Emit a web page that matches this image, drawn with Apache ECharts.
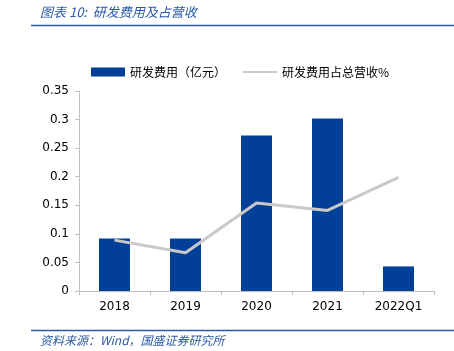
<!DOCTYPE html>
<html>
<head>
<meta charset="utf-8">
<script src="https://cdn.jsdelivr.net/npm/echarts@6/dist/echarts.min.js"></script>
<style>
  html, body { margin: 0; padding: 0; background: #fff; }
  #chart { width: 454px; height: 351px; }
</style>
</head>
<body>
<div id="chart"></div>
<script>
// data
const categories = ['2018', '2019', '2020', '2021', '2022Q1'];
const rdExpense = [0.092, 0.092, 0.272, 0.302, 0.043];   // 研发费用（亿元）
const rdRatio = [0.089, 0.067, 0.154, 0.141, 0.199];     // 研发费用占总营收%
const yTicks = { min: 0, max: 0.35, interval: 0.05 };

const blue = '#023F97';
const titleBlue = '#2B5AA6';
const cjk = '"Noto Sans CJK SC", "DejaVu Sans", sans-serif';

const chart = echarts.init(document.getElementById('chart'));

chart.setOption({
    animation: false,
    backgroundColor: '#fff',
    graphic: [
        {
            type: 'text', left: 40, top: 6,
            style: { text: '图表 10:  研发费用及占营收', fill: titleBlue, font: 'italic 13px ' + cjk }
        },
        {
            type: 'line', shape: { x1: 31, y1: 25.5, x2: 454, y2: 25.5 },
            style: { stroke: '#2B5AA6', lineWidth: 1.5 }
        },
        {
            type: 'line', shape: { x1: 31, y1: 330.5, x2: 454, y2: 330.5 },
            style: { stroke: '#2B5AA6', lineWidth: 1.5 }
        },
        {
            type: 'text', left: 40, top: 334,
            style: { text: '资料来源：Wind，国盛证券研究所', fill: titleBlue, font: 'italic 12px ' + cjk }
        }
    ],
    legend: {
        top: 61,
        left: 86,
        itemWidth: 34,
        itemHeight: 9,
        itemGap: 16,
        textStyle: { fontFamily: cjk, fontSize: 12, color: '#000' },
        data: [
            { name: '研发费用（亿元）', icon: 'rect' },
            { name: '研发费用占总营收%', itemStyle: { opacity: 0 } }
        ]
    },
    grid: { left: 79, right: 20, top: 91, bottom: 60 },
    xAxis: {
        type: 'category',
        data: categories,
        axisLine: { lineStyle: { color: '#BFBFBF', width: 1 } },
        axisTick: { show: true, alignWithLabel: false, length: 4, lineStyle: { color: '#BFBFBF' } },
        axisLabel: { color: '#000', fontSize: 12, fontFamily: 'DejaVu Sans', margin: 10 }
    },
    yAxis: {
        type: 'value',
        min: yTicks.min,
        max: yTicks.max,
        interval: yTicks.interval,
        axisLine: { show: true, lineStyle: { color: '#BFBFBF', width: 1 } },
        axisTick: { show: true, length: 4, lineStyle: { color: '#BFBFBF' } },
        splitLine: { show: false },
        axisLabel: { color: '#000', fontSize: 12, fontFamily: 'DejaVu Sans', margin: 10 }
    },
    series: [
        {
            name: '研发费用（亿元）',
            type: 'bar',
            data: rdExpense,
            barWidth: 31,
            itemStyle: { color: blue }
        },
        {
            name: '研发费用占总营收%',
            type: 'line',
            data: rdRatio,
            symbol: 'none',
            lineStyle: { color: '#C9C9C9', width: 3 },
            itemStyle: { color: '#C9C9C9' }
        }
    ]
});
</script>
</body>
</html>
